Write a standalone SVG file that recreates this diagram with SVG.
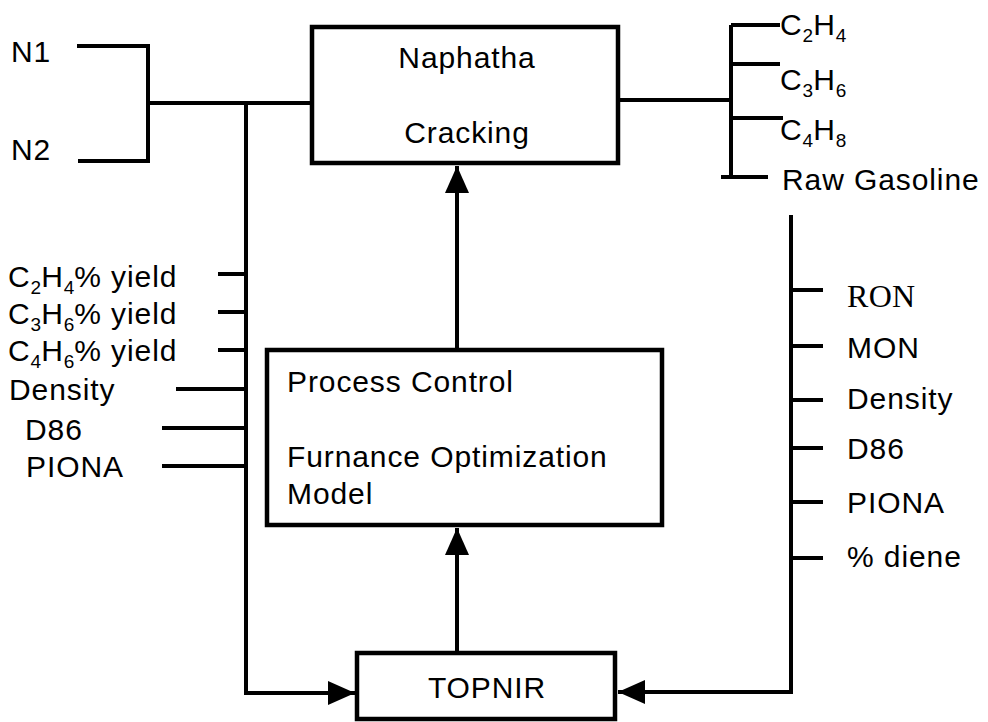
<svg xmlns="http://www.w3.org/2000/svg" width="988" height="722" viewBox="0 0 988 722">
<style>
.ln{fill:none;stroke:#000;stroke-width:4;stroke-linejoin:miter}
.box{fill:#fff;stroke:#000;stroke-width:4.5}
text{font-family:"Liberation Sans",Arial,Helvetica,sans-serif;font-size:30px;letter-spacing:0.9px;fill:#000}
.sub{font-size:19px;letter-spacing:0}
.serif{font-family:"Liberation Serif","Times New Roman",serif;font-size:32px;letter-spacing:0.3px}
</style>
<defs>
<marker id="arr" markerUnits="userSpaceOnUse" markerWidth="28" markerHeight="26" refX="27" refY="13" orient="auto">
<path d="M0,1 L27,13 L0,25 Z" fill="#000"/>
</marker>
</defs>
<g id="connectors">
<path class="ln" d="M77,46 H148 V161 H78"/>
<path class="ln" d="M148,103 H312"/>
<path class="ln" d="M246,103 V693 H355" marker-end="url(#arr)"/>
<path class="ln" d="M618,100 H731"/>
<path class="ln" d="M731,25 V177"/>
<path class="ln" d="M731,25 H780 M731,64 H780 M731,118 H783 M721,177 H768"/>
<path class="ln" d="M457,348 V166" marker-end="url(#arr)"/>
<path class="ln" d="M457,653 V528" marker-end="url(#arr)"/>
<path class="ln" d="M791,215 V692 H618" marker-end="url(#arr)"/>
<path class="ln" d="M218,274 H246 M218,312 H246 M218,350 H246 M176,389 H246 M162,428 H246 M162,466 H246"/>
<path class="ln" d="M791,290 H823 M791,346 H823 M791,400 H823 M791,448 H823 M791,502 H823 M791,558 H823"/>
</g>
<g id="n1"><text x="11" y="62">N1</text></g>
<g id="n2"><text x="11" y="160">N2</text></g>
<g id="naphtha">
<rect class="box" x="312" y="27" width="306" height="136"/>
<text x="467" y="68" text-anchor="middle">Naphatha</text>
<text x="467" y="143" text-anchor="middle">Cracking</text>
</g>
<g id="products">
<text x="780" y="35">C<tspan class="sub" dy="7">2</tspan><tspan dy="-7">H</tspan><tspan class="sub" dy="7">4</tspan></text>
<text x="780" y="90">C<tspan class="sub" dy="7">3</tspan><tspan dy="-7">H</tspan><tspan class="sub" dy="7">6</tspan></text>
<text x="780" y="140">C<tspan class="sub" dy="7">4</tspan><tspan dy="-7">H</tspan><tspan class="sub" dy="7">8</tspan></text>
<text x="782" y="190">Raw Gasoline</text>
</g>
<g id="process">
<rect class="box" x="267" y="350" width="395" height="175"/>
<text x="287" y="392">Process Control</text>
<text x="287" y="467">Furnance Optimization</text>
<text x="287" y="504">Model</text>
</g>
<g id="topnir">
<rect class="box" x="357" y="653" width="258" height="66"/>
<text x="487" y="698" text-anchor="middle">TOPNIR</text>
</g>
<g id="left-labels">
<text x="8" y="287">C<tspan class="sub" dy="7">2</tspan><tspan dy="-7">H</tspan><tspan class="sub" dy="7">4</tspan><tspan dy="-7">% yield</tspan></text>
<text x="8" y="324">C<tspan class="sub" dy="7">3</tspan><tspan dy="-7">H</tspan><tspan class="sub" dy="7">6</tspan><tspan dy="-7">% yield</tspan></text>
<text x="8" y="361">C<tspan class="sub" dy="7">4</tspan><tspan dy="-7">H</tspan><tspan class="sub" dy="7">6</tspan><tspan dy="-7">% yield</tspan></text>
<text x="9" y="400">Density</text>
<text x="25" y="440">D86</text>
<text x="26" y="477">PIONA</text>
</g>
<g id="right-labels">
<text class="serif" x="847" y="307">RON</text>
<text x="847" y="358">MON</text>
<text x="847" y="409">Density</text>
<text x="847" y="459">D86</text>
<text x="847" y="513">PIONA</text>
<text x="847" y="567">% diene</text>
</g>
</svg>
